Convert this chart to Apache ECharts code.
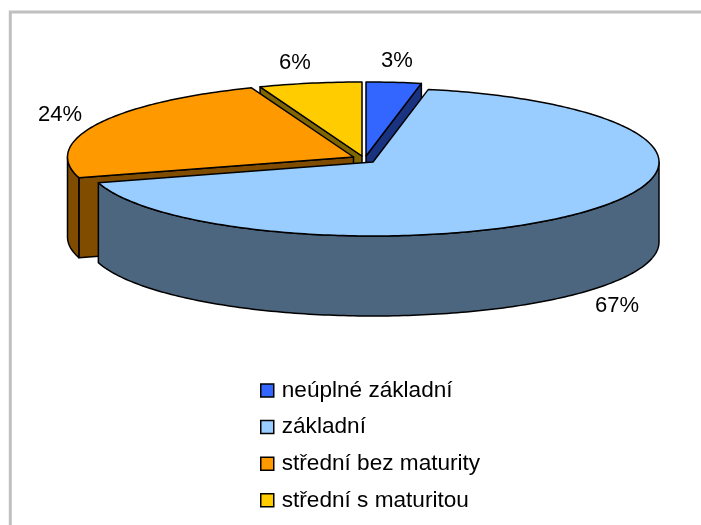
<!DOCTYPE html>
<html>
<head>
<meta charset="utf-8">
<style>html,body{margin:0;padding:0;background:#fff}#c{width:701px;height:525px}</style>
<script src="https://cdn.jsdelivr.net/npm/echarts@6/dist/echarts.min.js"></script>
</head>
<body>
<div id="c"></div>
<script>
const categories = ['neúplné základní', 'základní', 'střední bez maturity', 'střední s maturitou'];
const shares = [3.1, 67.4, 23.7, 5.8];
const topColors = ['#3366FF', '#99CCFF', '#FF9900', '#FFCC00'];
const sideColors = ['#1A3380', '#4D6680', '#804D00', '#806600'];

// Pie geometry (layout only)
const RX = 286, RY = 74, DEPTH = 80;
const apexes = [[366, 156], [373, 162], [353.5, 157], [362, 156]];
const labelPositions = [[397, 61], [617, 306], [60, 115], [295, 63]];
const paintOrder = [2, 4, 3, 1]; // z per category: back slices first
const total = shares.reduce((a, b) => a + b, 0);

function startFraction(i) {
  let s = 0;
  for (let k = 0; k < i; k++) s += shares[k];
  return s / total;
}
function rim(c, f, dy) {
  const a = f * 2 * Math.PI;
  return [c[0] + RX * Math.sin(a), c[1] - RY * Math.cos(a) + (dy || 0)];
}
function arcPoints(c, f0, f1, dy) {
  const n = Math.max(2, Math.ceil((f1 - f0) * 360));
  const pts = [];
  for (let k = 0; k <= n; k++) pts.push(rim(c, f0 + (f1 - f0) * k / n, dy));
  return pts;
}
const lineStyle = (fill) => ({ fill, stroke: '#000', lineWidth: 1.5, lineJoin: 'round' });

function sliceRenderer(i) {
  return function () {
    const c = apexes[i];
    const f0 = startFraction(i), f1 = f0 + shares[i] / total;
    const below = [c[0], c[1] + DEPTH];
    const children = [];
    const side = sideColors[i];
    const face = (f) => ({
      type: 'polygon',
      shape: { points: [c, rim(c, f), rim(c, f, DEPTH), below] },
      style: lineStyle(side)
    });
    // cut faces are drawn only when they turn towards the viewer
    if (Math.sin(f0 * 2 * Math.PI) < -1e-6) children.push(face(f0));
    if (Math.sin(f1 * 2 * Math.PI) > 1e-6) children.push(face(f1));
    // outer wall: only the part that faces the viewer (fractions 0.25 to 0.75)
    const w0 = Math.max(f0, 0.25), w1 = Math.min(f1, 0.75);
    if (w1 > w0) {
      const topArc = arcPoints(c, w0, w1, 0);
      const botArc = arcPoints(c, w0, w1, DEPTH).reverse();
      children.push({
        type: 'polygon',
        shape: { points: topArc.concat(botArc) },
        style: lineStyle(side)
      });
    }
    children.push({
      type: 'polygon',
      shape: { points: [c].concat(arcPoints(c, f0, f1, 0)) },
      style: lineStyle(topColors[i])
    });
    children.push({
      type: 'text',
      style: {
        x: labelPositions[i][0], y: labelPositions[i][1],
        text: Math.round(shares[i]) + '%',
        font: '22px "Liberation Sans", Arial, sans-serif',
        fill: '#000', align: 'center', verticalAlign: 'middle'
      }
    });
    return { type: 'group', children };
  };
}

const chart = echarts.init(document.getElementById('c'), null, { renderer: 'canvas' });
chart.setOption({
  animation: false,
  backgroundColor: '#fff',
  graphic: [{
    type: 'polyline',
    shape: { points: [[10.3, 525], [10.3, 12], [701, 12]] },
    style: { stroke: '#C0C0C0', lineWidth: 3, fill: 'none' },
    silent: true
  }],
  legend: {
    orient: 'vertical',
    left: 260,
    top: 379,
    padding: 0,
    itemWidth: 13,
    itemHeight: 13,
    itemGap: 13.6,
    icon: 'rect',
    selectedMode: false,
    data: categories,
    itemStyle: { borderColor: '#000', borderWidth: 1.5 },
    textStyle: {
      fontFamily: '"Liberation Sans", Arial, sans-serif',
      fontSize: 22.6, lineHeight: 22, color: '#000', padding: [0, 0, 0, 3]
    }
  },
  series: categories.map((name, i) => ({
    type: 'custom',
    name,
    coordinateSystem: 'none',
    z: paintOrder[i],
    data: [shares[i]],
    itemStyle: { color: topColors[i] },
    renderItem: sliceRenderer(i),
    silent: true
  }))
});
</script>
</body>
</html>
